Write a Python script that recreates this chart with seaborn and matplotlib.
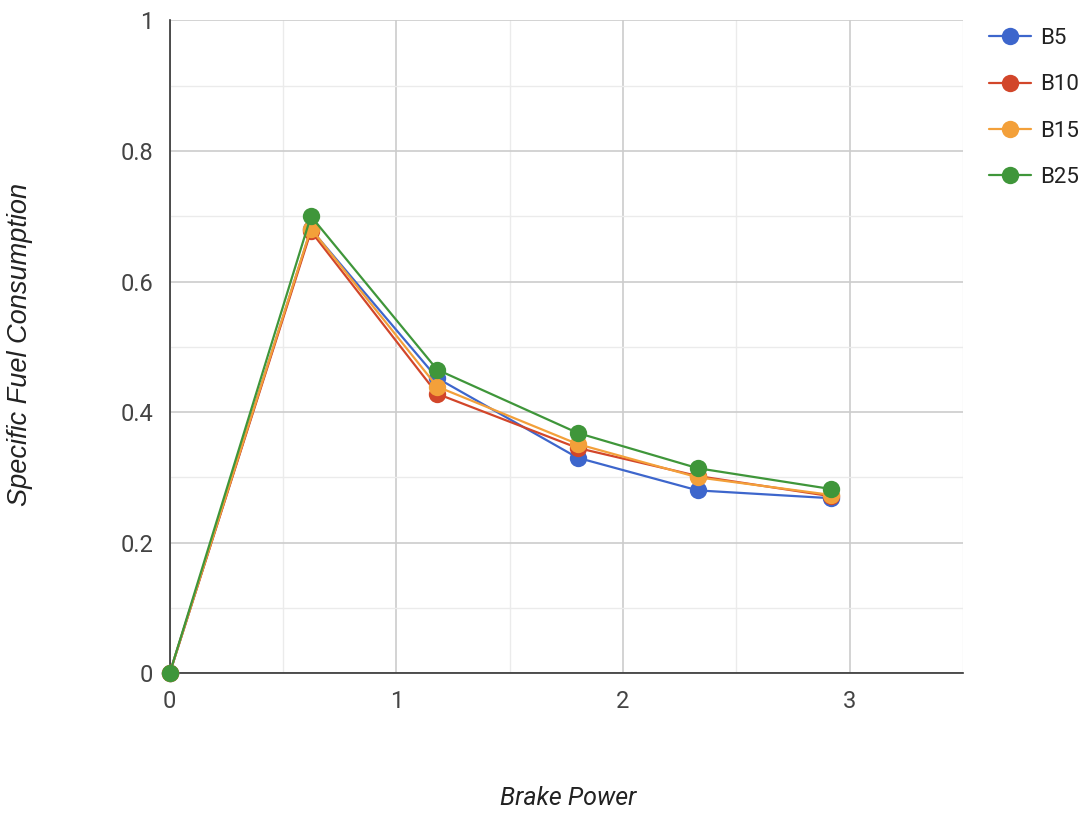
import matplotlib
matplotlib.use("Agg")
import matplotlib.pyplot as plt
import seaborn as sns
import pandas as pd
from matplotlib.ticker import MultipleLocator
from matplotlib.lines import Line2D

brake_power = [0, 0.623, 1.18, 1.80, 2.33, 2.92]
b5 = [0, 0.680, 0.452, 0.330, 0.280, 0.268]
b10 = [0, 0.677, 0.428, 0.345, 0.302, 0.271]
b15 = [0, 0.681, 0.439, 0.351, 0.300, 0.273]
b25 = [0, 0.700, 0.465, 0.368, 0.314, 0.282]
series_names = ["B5", "B10", "B15", "B25"]
colors = ["#3D66CC", "#D2462A", "#F3A03A", "#3F963A"]

rows = []
for name, vals in zip(series_names, [b5, b10, b15, b25]):
    for x, y in zip(brake_power, vals):
        rows.append({"Brake Power": x, "SFC": y, "Blend": name})
df = pd.DataFrame(rows)

sns.set_style("white")
plt.rcParams["font.family"] = ["Roboto", "DejaVu Sans"]
fig = plt.figure(figsize=(10.88, 8.15), dpi=100)
ax = fig.add_axes([0.156, 0.174, 0.729, 0.801])

sns.lineplot(data=df, x="Brake Power", y="SFC", hue="Blend", hue_order=series_names,
             palette=colors, marker="o", markersize=12.5, markeredgewidth=0,
             linewidth=1.6, sort=False, ax=ax, legend=False, zorder=3, clip_on=False)

ax.set_xlim(0, 3.5)
ax.set_ylim(0, 1)
ax.xaxis.set_minor_locator(MultipleLocator(0.5))
ax.yaxis.set_minor_locator(MultipleLocator(0.1))
ax.set_yticks([0, 0.2, 0.4, 0.6, 0.8, 1.0])
ax.set_yticklabels(["0", "0.2", "0.4", "0.6", "0.8", "1"])
ax.set_xticks([0, 1, 2, 3])
ax.set_xticklabels(["0", "1", "2", "3"])
ax.grid(which="major", color="#CCCCCC", linewidth=1.2)
ax.grid(which="minor", color="#EBEBEB", linewidth=1.0)
ax.set_axisbelow(True)
ax.tick_params(axis="both", which="both", length=0, labelsize=17, colors="#444444", pad=12)
for s in ["top", "right"]:
    ax.spines[s].set_visible(False)
ax.spines["left"].set_color("#333333")
ax.spines["bottom"].set_color("#333333")
ax.spines["left"].set_linewidth(1.2)
ax.spines["bottom"].set_linewidth(1.2)

ax.set_xlabel("")
ax.set_ylabel("")
fig.text(0.522, 0.021, "Brake Power", ha="center", va="center", fontsize=18,
         style="italic", color="#222222")
fig.text(0.018, 0.577, "Specific Fuel Consumption", ha="center", va="center",
         fontsize=19.5, style="italic", color="#222222", rotation=90,
         family=["Liberation Sans", "DejaVu Sans"])

handles = [Line2D([0], [0], color=c, marker="o", markersize=12.5, markeredgewidth=0,
                  linewidth=1.6) for c in colors]
fig.legend(handles, series_names, loc="upper left", bbox_to_anchor=(0.897, 0.982),
           frameon=False, fontsize=16, handlelength=1.9, labelspacing=1.14,
           handletextpad=0.4, labelcolor="#222222", borderaxespad=0.2)

fig.savefig("out.png", dpi=100)
